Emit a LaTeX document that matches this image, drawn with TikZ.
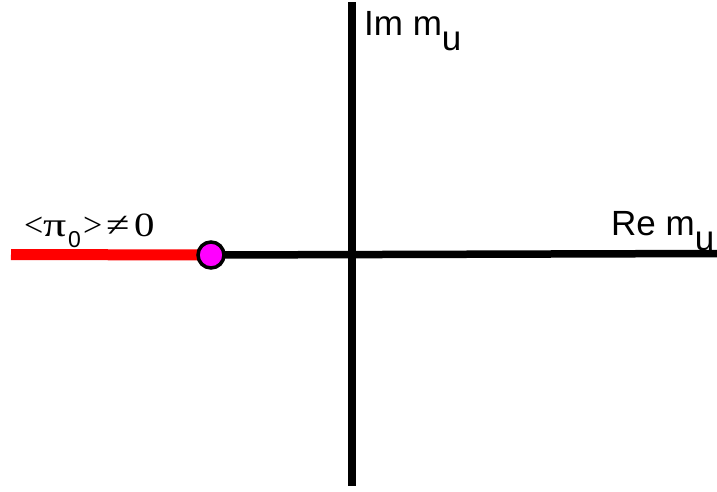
\documentclass[tikz,border=0pt]{standalone}
\usepackage{fontspec}
\usepackage{graphicx}
\setmainfont{Liberation Serif}
\newfontfamily\arialf{Liberation Sans}
\definecolor{magentafill}{RGB}{255,0,255}
\definecolor{purered}{RGB}{255,0,0}
\tikzset{
  axis/.style={line width=7.5pt, black},
  redline/.style={line width=11pt, purered},
  pointmark/.style={circle, draw=black, line width=3.5pt, fill=magentafill, minimum size=26pt, inner sep=0pt},
  lbl/.style={inner sep=0pt, anchor=base west}
}
\begin{document}
\begin{tikzpicture}[x=1pt, y=-1pt]
\useasboundingbox (0,0) rectangle (717,491);
\coordinate (vtop) at (352,2);
\coordinate (vbot) at (352,486);
\coordinate (hleft) at (11,254.5);
\coordinate (hright) at (717,253.5);
\draw[axis] (vtop) -- (vbot);
\draw[axis] (211,255) -- (hright);
\draw[redline] (hleft) -- (211,255);
\node[pointmark] (pt) at (211,255) {};
\node[lbl] (im) at (364,35) {\arialf\fontsize{35pt}{40pt}\selectfont Im m\raisebox{-15pt}{u}};
\node[lbl] (re) at (611,235) {\arialf\fontsize{35pt}{40pt}\selectfont Re m\raisebox{-15pt}{u}};
\node[lbl] (pi) at (24,236) {\fontsize{34pt}{38pt}\selectfont
  \makebox[19pt][l]{<}%
  \makebox[25pt][l]{\scalebox{1.35}[1]{π}}%
  \makebox[15pt][l]{\raisebox{-11pt}{\arialf\fontsize{23pt}{26pt}\selectfont 0}}%
  \makebox[23pt][l]{>}%
  \makebox[28pt][l]{\scalebox{1.25}[1]{≠}}%
  \scalebox{1.2}[1]{0}};
\end{tikzpicture}
\end{document}
